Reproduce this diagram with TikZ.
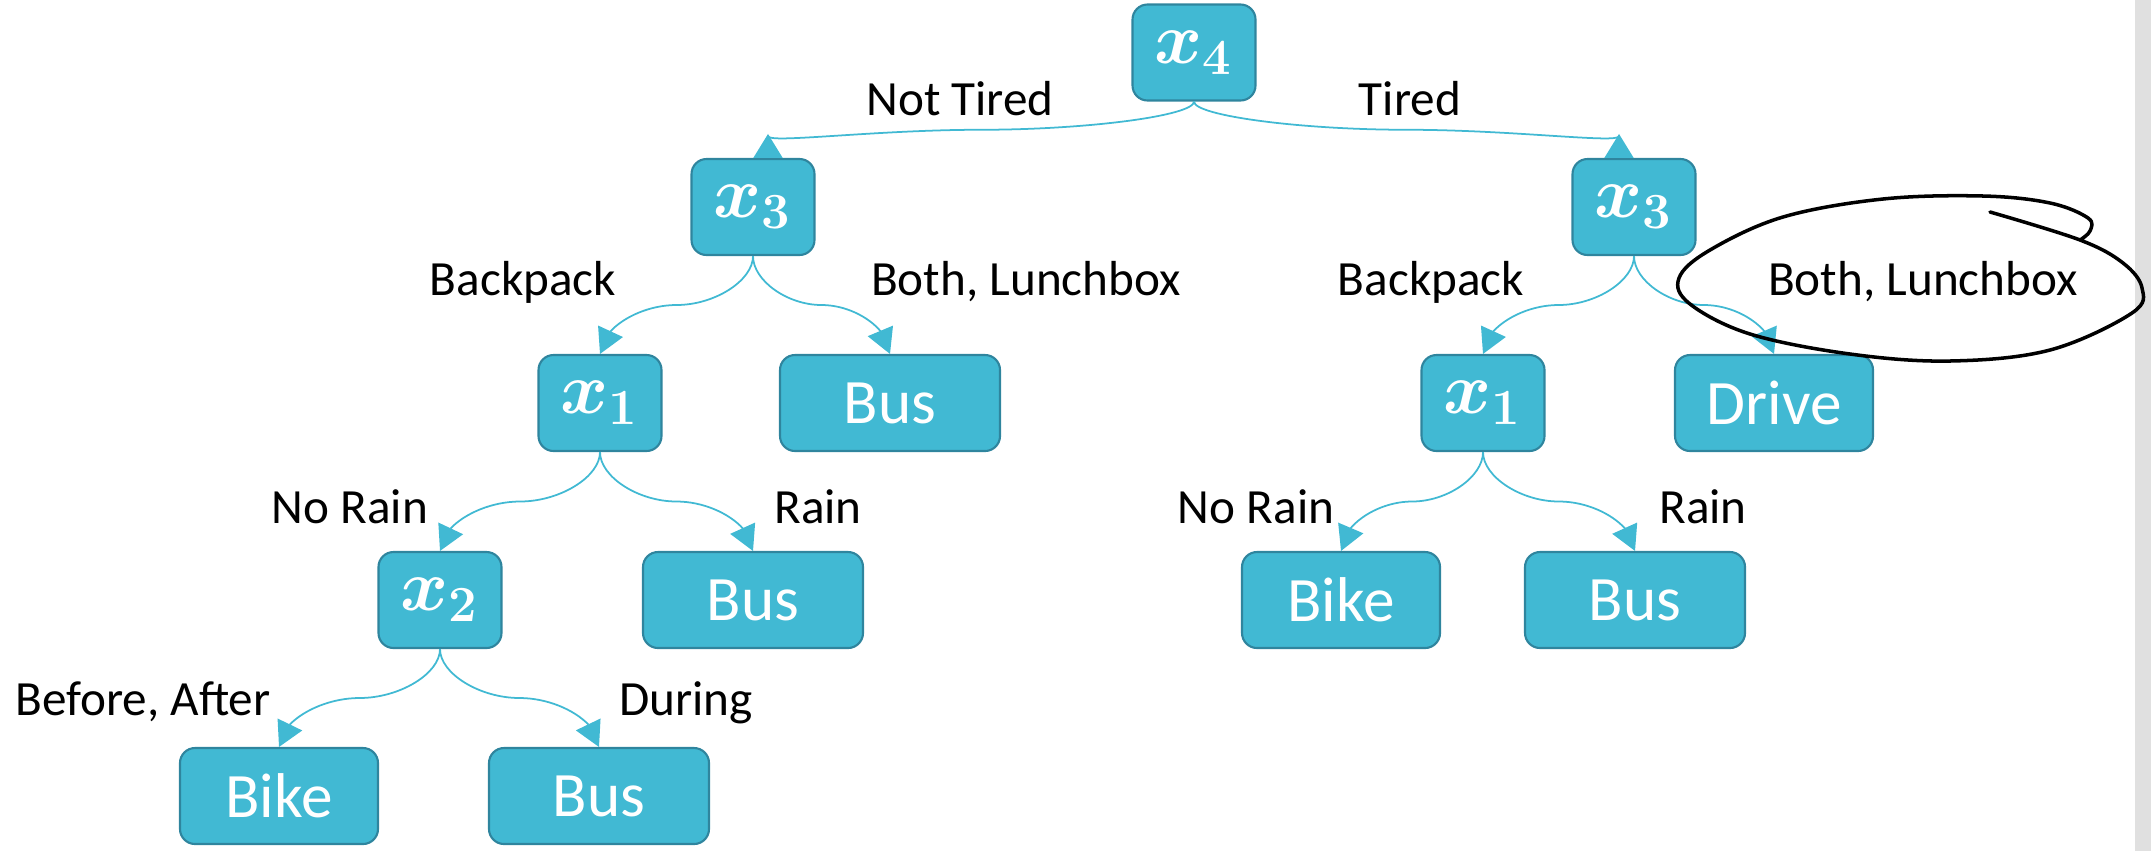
\documentclass[tikz,border=0pt]{standalone}
\usepackage{amsmath}
\usepackage[no-math]{fontspec}
\setmainfont{Carlito}
\usetikzlibrary{arrows.meta,bending,calc}

\definecolor{treeblue}{RGB}{65,185,211}
\definecolor{treeborder}{RGB}{47,133,158}
\definecolor{sidegray}{RGB}{224,224,224}

\tikzset{
  split/.style={draw=treeborder,fill=treeblue,line width=0.6pt,rounded corners=0.15cm,
    minimum width=1.23cm,minimum height=0.96cm,inner sep=0pt,text=white,
    font=\fontsize{20.74}{22}\selectfont},
  leaf/.style={split,font=\fontsize{18}{20}\selectfont},
  cond/.style={font=\fontsize{14}{16}\selectfont,anchor=base,inner sep=0pt},
  branch/.style={draw=treeblue,line width=0.5pt,
    -{Triangle[length=0.25cm,width=0.27cm,flex]},
    to path={let \p1=(\tikztostart),\p2=(\tikztotarget),\p3=($(\p1)!.5!(\p2)$) in
      .. controls (\x1,{(\y1+\y3)/2}) and ({(3*\x1+\x2)/4},\y3) .. (\p3)
      .. controls ({(\x1+3*\x2)/4},\y3) and (\x2,{(\y3+\y2)/2}) .. (\p2)}},
  root branch/.style={branch,-{Triangle[length=0.24cm,width=0.29cm,reversed,quick]}}
}

\begin{document}
\begin{tikzpicture}

\useasboundingbox (0,0) rectangle (21.51,-8.51);
\fill[sidegray] (21.35,0) rectangle (21.51,-8.51);

% splits
\node[split] (x4) at (11.94,-0.525) {$\boldsymbol{x_4}$};
\node[split] (x3l) at (7.53,-2.07) {$\boldsymbol{x_3}$};
\node[split] (x3r) at (16.34,-2.07) {$\boldsymbol{x_3}$};
\node[split] (x1l) at (6.00,-4.03) {$\boldsymbol{x_1}$};
\node[split] (x1r) at (14.83,-4.03) {$\boldsymbol{x_1}$};
\node[split] (x2) at (4.40,-6.00) {$\boldsymbol{x_2}$};

% leaves
\node[leaf,minimum width=2.20cm] (busbox) at (8.90,-4.03) {Bus};
\node[leaf,minimum width=1.98cm] (drive) at (17.74,-4.03) {Drive};
\node[leaf,minimum width=2.20cm] (busrain) at (7.53,-6.00) {Bus};
\node[leaf,minimum width=1.98cm] (bikedry) at (13.41,-6.00) {Bike};
\node[leaf,minimum width=2.20cm] (buswet) at (16.35,-6.00) {Bus};
\node[leaf,minimum width=1.98cm] (bikeoff) at (2.79,-7.96) {Bike};
\node[leaf,minimum width=2.20cm] (busduring) at (5.99,-7.96) {Bus};

% branches
\draw[root branch] (x4.south) to ([xshift=0.15cm]x3l.north);
\draw[root branch] (x4.south) to ([xshift=-0.15cm]x3r.north);
\draw[branch] (x3l.south) to (x1l.north);
\draw[branch] (x3l.south) to (busbox.north);
\draw[branch] (x3r.south) to (x1r.north);
\draw[branch] (x3r.south) to (drive.north);
\draw[branch] (x1l.south) to (x2.north);
\draw[branch] (x1l.south) to (busrain.north);
\draw[branch] (x1r.south) to (bikedry.north);
\draw[branch] (x1r.south) to (buswet.north);
\draw[branch] (x2.south) to (bikeoff.north);
\draw[branch] (x2.south) to (busduring.north);

% branch values
\node[cond] (nottired) at (9.60,-1.15) {Not Tired};
\node[cond] (tired) at (14.10,-1.15) {Tired};
\node[cond] (packl) at (5.23,-2.95) {Backpack};
\node[cond] (lunchl) at (10.26,-2.95) {Both, Lunchbox};
\node[cond] (packr) at (14.31,-2.95) {Backpack};
\node[cond] (lunchr) at (19.23,-2.95) {Both, Lunchbox};
\node[cond] (norainl) at (3.50,-5.23) {No Rain};
\node[cond] (rainl) at (8.18,-5.23) {Rain};
\node[cond] (norainr) at (12.56,-5.23) {No Rain};
\node[cond] (rainr) at (17.03,-5.23) {Rain};
\node[cond] (offpeak) at (1.43,-7.15) {Before, After};
\node[cond] (during) at (6.86,-7.15) {During};

% pen loop round the right-hand value
\draw[line width=1pt,line cap=round,line join=round] plot[smooth,tension=0.6] coordinates {
  (19.90,-2.12) (20.80,-2.40) (21.23,-2.63) (21.42,-2.88) (21.32,-3.13)
  (20.50,-3.50) (19.50,-3.61) (18.50,-3.54) (17.50,-3.34) (16.90,-3.04)
  (16.79,-2.78) (17.10,-2.50) (17.83,-2.17) (18.83,-1.99) (19.83,-1.96)
  (20.50,-2.03) (20.88,-2.18) (20.90,-2.31) (20.80,-2.40)};

\end{tikzpicture}
\end{document}
